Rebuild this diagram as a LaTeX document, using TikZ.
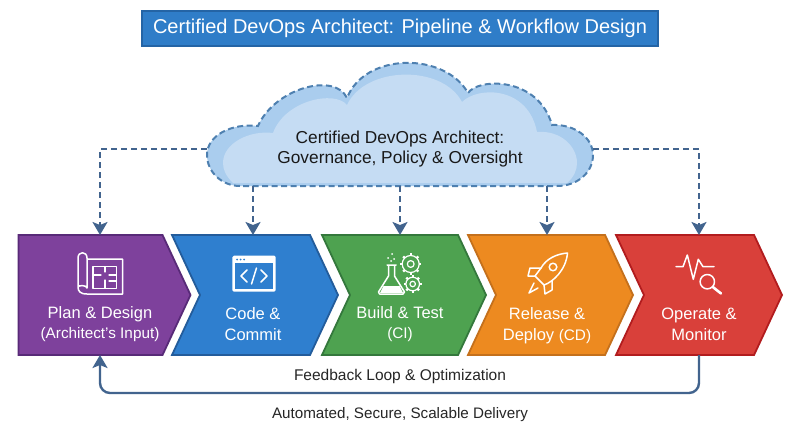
\documentclass[tikz,border=0pt]{standalone}
\usepackage{fontspec}
\setmainfont{Liberation Sans}
\usepackage{tikz}
\usetikzlibrary{arrows.meta,positioning,calc,shapes.symbols}
\definecolor{titlefill}{RGB}{47,125,200}
\definecolor{titleline}{RGB}{36,100,165}
\definecolor{linkcolor}{RGB}{66,100,142}
\definecolor{cloudline}{RGB}{78,128,176}
\definecolor{cloudouter}{RGB}{170,205,238}
\definecolor{cloudinner}{RGB}{197,220,243}
\definecolor{plancolor}{RGB}{126,65,156}
\definecolor{planline}{RGB}{88,42,120}
\definecolor{codecolor}{RGB}{47,127,207}
\definecolor{codeline}{RGB}{35,92,155}
\definecolor{buildcolor}{RGB}{78,162,80}
\definecolor{buildline}{RGB}{52,120,60}
\definecolor{releasecolor}{RGB}{237,138,32}
\definecolor{releaseline}{RGB}{196,112,28}
\definecolor{operatecolor}{RGB}{217,64,58}
\definecolor{operateline}{RGB}{178,28,30}
\tikzset{
  chevron/.style={shape=signal, signal to=east, signal from=west, signal pointer angle=130,
    minimum height=120pt, inner sep=0pt, outer sep=0pt, line width=1.8pt},
  stagetext/.style={align=center, text=white, font=\fontsize{16.5}{21}\selectfont},
  icon/.style={draw=white, line width=1.5pt, line join=round, line cap=round},
  dashlink/.style={draw=linkcolor, line width=2pt, dash pattern=on 6pt off 4pt},
  linktip/.style={-{Stealth[length=13pt,width=15pt,inset=3pt]}}
}
\begin{document}
\begin{tikzpicture}[x=1pt, y=-1pt]
    \useasboundingbox[fill=white] (0,0) rectangle (800,436);

    % title
    \node[draw=titleline, fill=titlefill, line width=1.5pt, minimum width=516pt, minimum height=35pt, inner sep=0pt, text=white, font=\fontsize{20}{22}\selectfont] (title) at (400,28.5) {Certified DevOps Architect: Pipeline \& Workflow Design};

    % cloud
    \fill[cloudouter] (240,186) .. controls (222,186) and (207,172) .. (207,155) .. controls (207,135) and (232,123) .. (258,126) .. controls (275,88) and (335,72) .. (347,98) .. controls (365,52) and (445,52) .. (468,93) .. controls (478,78) and (538,76) .. (552,125) .. controls (575,124) and (593,138) .. (593,155) .. controls (593,172) and (578,186) .. (557,186) -- cycle;
    \fill[cloudinner] (233,183) .. controls (226,176) and (223,170) .. (223,163) .. controls (223,143) and (250,130) .. (273,133) .. controls (285,100) and (335,90) .. (347,105) .. controls (365,66) and (442,64) .. (462,102) .. controls (478,86) and (528,86) .. (537,132) .. controls (560,130) and (577,146) .. (577,163) .. controls (577,170) and (574,177) .. (567,183) -- cycle;
    \draw[draw=cloudline, line width=2pt, dash pattern=on 6pt off 3.5pt] (240,186) .. controls (222,186) and (207,172) .. (207,155) .. controls (207,135) and (232,123) .. (258,126) .. controls (275,88) and (335,72) .. (347,98) .. controls (365,52) and (445,52) .. (468,93) .. controls (478,78) and (538,76) .. (552,125) .. controls (575,124) and (593,138) .. (593,155) .. controls (593,172) and (578,186) .. (557,186) -- cycle;
    \node[align=center, text=black!90, font=\fontsize{17.3}{20.5}\selectfont] (cloudtext) at (400,149) {Certified DevOps Architect:\\Governance, Policy \& Oversight};
    \coordinate (cloudwest) at (207,149);
    \coordinate (cloudeast) at (593,149);
    \coordinate (cloudbase) at (400,186);

    % stages
    \node[chevron, signal from=nowhere, draw=planline, fill=plancolor, minimum width=172pt] (plan) at (90.5,295) {};
    \node[chevron, draw=codeline, fill=codecolor, minimum width=166pt] (code) at (255,295) {};
    \node[chevron, draw=buildline, fill=buildcolor, minimum width=164pt] (build) at (404,295) {};
    \node[chevron, draw=releaseline, fill=releasecolor, minimum width=165pt] (release) at (550.5,295) {};
    \node[chevron, draw=operateline, fill=operatecolor, minimum width=166pt] (operate) at (699,295) {};

    \node[stagetext] (plantext) at (100,324.5) {Plan \& Design\\[-1pt]{\fontsize{15.3}{18}\selectfont (Architect's Input)}};
    \node[stagetext] (codetext) at (253,324) {Code \&\\Commit};
    \node[stagetext] (buildtext) at (400,324.5) {Build \& Test\\[-1pt]{\fontsize{15.3}{18}\selectfont (CI)}};
    \node[stagetext] (releasetext) at (547,325.5) {Release \&\\Deploy {\fontsize{15.3}{18}\selectfont (CD)}};
    \node[stagetext] (operatetext) at (699,324) {Operate \&\\Monitor};

    % blueprint icon
    \draw[icon] (87,259) -- (122.5,259) -- (122.5,294) -- (87,294) .. controls (80,294) and (78,291) .. (78,287) -- (78,258) .. controls (78,251) and (87,251) .. (87,258) -- (87,288) .. controls (87,285) and (78,285) .. (78,287);
    \draw[icon, line width=1.2pt] (93,266.5) rectangle (116.5,288.5);
    \draw[icon, line width=1.2pt] (105,266.5) -- (105,272) (93,275) -- (101,275) (109,275) -- (116.5,275) (105,288.5) -- (105,280) (109,281) -- (116.5,281);

    % code icon
    \fill[white, rounded corners=1.5pt] (232.3,255.7) rectangle (275.7,291.7);
    \fill[codecolor] (235,263) rectangle (273,289);
    \foreach \dotx in {237,240.5,244} \fill[codecolor] (\dotx,259.5) circle (1pt);
    \draw[icon] (247,270) -- (241,276) -- (247,282) (261,270) -- (267,276) -- (261,282) (256.5,268) -- (251.5,284);

    % flask and gears icon
    \draw[icon] (387,265) -- (396,265) (388.5,265) -- (388.5,276) -- (378.5,292) -- (379.5,294) -- (403,294) -- (404.5,292) -- (394.5,276) -- (394.5,265);
    \fill[white] (383.5,286) -- (399.5,286) -- (403,293) -- (380,293) -- cycle;
    \foreach \bubx/\buby in {388/258,392/254,391/261,394/259} \fill[white] (\bubx,\buby) circle (1pt);
    \foreach \gearx/\geary/\gearr in {410.7/264/8.5,412.7/284/6.8} {
      \draw[icon, line width=1.2pt] (\gearx,\geary) circle (\gearr pt);
      \draw[icon, line width=1.2pt] (\gearx,\geary) circle (0.4*\gearr pt);
      \foreach \ang in {0,45,...,315}
        \draw[white, line width=2.4pt] ($(\gearx,\geary)+(\ang:\gearr pt)$) -- ($(\gearx,\geary)+(\ang:\gearr+2.2 pt)$);
    }

    % rocket icon
    \draw[icon] (567.5,253) .. controls (556,254) and (546,259) .. (541,268) -- (535,276) -- (544,285) .. controls (553,282) and (566,270) .. (567.5,253) -- cycle;
    \draw[icon] (553,267) circle (3.8pt);
    \draw[icon] (541,268) -- (530,268) -- (528,276) -- (535,276);
    \draw[icon] (552,281) -- (552,290) -- (545,294) -- (544,285);
    \draw[icon] (534,283) -- (529,293) -- (538,288);

    % monitor icon
    \draw[icon] (676,266.7) -- (683,266.7) -- (687.3,255) -- (693.3,279.3) -- (698.3,259.3) -- (703,266.7) -- (714,266.7);
    \fill[operatecolor] (707.3,281.7) circle (8.5pt);
    \draw[icon] (707.3,281.7) circle (7.2pt);
    \draw[icon, line width=2.6pt] (712.8,287) -- (721,293.5);

    % governance links
    \draw[dashlink, linktip] (cloudwest) -| (plan.north -| plantext);
    \draw[dashlink, linktip] (cloudbase -| codetext) -- (code.north -| codetext);
    \draw[dashlink, linktip] (cloudbase -| buildtext) -- (build.north -| buildtext);
    \draw[dashlink, linktip] (cloudbase -| releasetext) -- (release.north -| releasetext);
    \draw[dashlink, linktip] (cloudeast) -| (operate.north -| operatetext);

    % feedback loop
    \coordinate (loopright) at (operatetext |- 0,393);
    \coordinate (loopleft) at (plantext |- 0,393);
    \draw[draw=linkcolor, line width=2.4pt, rounded corners=10pt, linktip] (operate.south -| operatetext) -- (loopright) -- (loopleft) -- (plan.south -| plantext);
    \node[text=black!85, font=\fontsize{15.5}{18}\selectfont] (looptext) at (400,376.5) {Feedback Loop \& Optimization};
    \node[text=black!85, font=\fontsize{15.2}{18}\selectfont] (deliverytext) at (400,414.5) {Automated, Secure, Scalable Delivery};
  \end{tikzpicture}
\end{document}
